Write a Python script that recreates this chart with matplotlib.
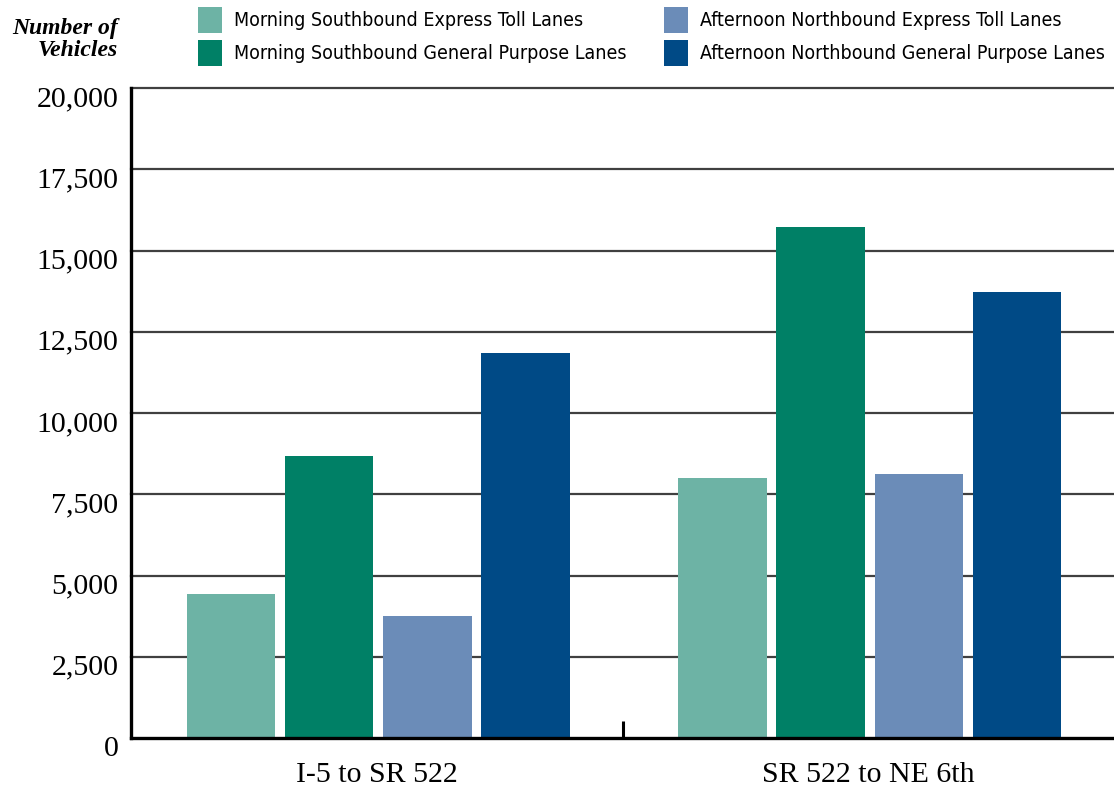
import matplotlib.pyplot as plt
import matplotlib.transforms as mtransforms
import numpy as np
from matplotlib.patches import Patch

segments = ["I-5 to SR 522", "SR 522 to NE 6th"]
series = [
    "Morning Southbound Express Toll Lanes",
    "Morning Southbound General Purpose Lanes",
    "Afternoon Northbound Express Toll Lanes",
    "Afternoon Northbound General Purpose Lanes",
]
morning_express = [4430, 8000]
morning_gp = [8680, 15720]
afternoon_express = [3750, 8120]
afternoon_gp = [11850, 13720]
colors = ["#6db3a5", "#008066", "#6b8cb8", "#004a86"]
yticks = [0, 2500, 5000, 7500, 10000, 12500, 15000, 17500, 20000]

values = [morning_express, morning_gp, afternoon_express, afternoon_gp]

fig = plt.figure(figsize=(11.14, 7.9), dpi=100)
ax = fig.add_axes([0.1176, 0.0658, 0.8824, 0.8228])

x = np.arange(len(segments))
offsets = [-0.3, -0.1, 0.1, 0.3]
for vals, off, c in zip(values, offsets, colors):
    ax.bar(x + off + 0.003, vals, width=0.18, color=c, zorder=3)

ax.set_xlim(-0.5, 1.5)
ax.set_ylim(0, 20000)
ax.set_yticks(yticks)
ax.set_yticklabels([f"{v:,}" for v in yticks], family="Liberation Serif", fontsize=21.5)
ax.set_xticks(x)
ax.set_xticklabels(segments, family="Liberation Serif", fontsize=21.5)
ax.set_xticks([0.5], minor=True)
ax.tick_params(axis="x", which="major", length=0, pad=17)
ax.tick_params(axis="x", which="minor", direction="in", length=12, width=2.2, color="black")
ax.tick_params(axis="y", length=0, pad=9)

# the value labels sit a little below their gridlines in the original
shift = mtransforms.ScaledTranslation(0, -0.08, fig.dpi_scale_trans)
for lab in ax.get_yticklabels():
    lab.set_transform(lab.get_transform() + shift)

for v in yticks[1:]:
    ax.axhline(v, color="#404040", lw=1.6, zorder=1, clip_on=False)

for s in ["top", "right"]:
    ax.spines[s].set_visible(False)
ax.spines["left"].set_linewidth(2.4)
ax.spines["bottom"].set_linewidth(2.4)
ax.spines["left"].set_zorder(4)
ax.spines["bottom"].set_zorder(4)

fig.text(0.106, 0.977, "Number of\nVehicles", ha="right", va="top",
         family="Liberation Serif", style="italic", fontweight="bold",
         fontsize=17, linespacing=1.05)

handles = [Patch(facecolor=c, edgecolor="none") for c in colors]
fig.legend(handles, series, ncol=2, loc="upper left", bbox_to_anchor=(0.167, 1.006),
           frameon=False,
           prop={"family": "DejaVu Sans", "stretch": "condensed", "size": 14},
           handlelength=1.24, handleheight=1.68, handletextpad=0.62, columnspacing=1.95,
           labelspacing=0.35, borderaxespad=0.2)

fig.savefig("out.png", dpi=100)
